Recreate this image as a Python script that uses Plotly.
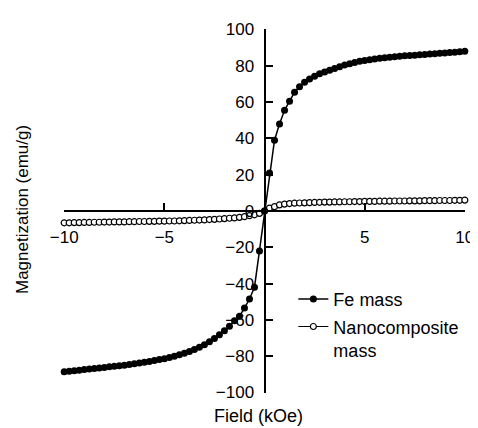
import plotly.graph_objects as go

field = [-10.0, -9.75, -9.5, -9.25, -9.0, -8.75, -8.5, -8.25, -8.0, -7.75,
         -7.5, -7.25, -7.0, -6.75, -6.5, -6.25, -6.0, -5.75, -5.5, -5.25,
         -5.0, -4.75, -4.5, -4.25, -4.0, -3.75, -3.5, -3.25, -3.0, -2.75,
         -2.5, -2.25, -2.0, -1.75, -1.5, -1.25, -1.0, -0.75, -0.5, -0.25,
         0.0,
         0.25, 0.5, 0.75, 1.0, 1.25, 1.5, 1.75, 2.0, 2.25, 2.5,
         2.75, 3.0, 3.25, 3.5, 3.75, 4.0, 4.25, 4.5, 4.75, 5.0,
         5.25, 5.5, 5.75, 6.0, 6.25, 6.5, 6.75, 7.0, 7.25, 7.5,
         7.75, 8.0, 8.25, 8.5, 8.75, 9.0, 9.25, 9.5, 9.75, 10.0]

fe_mass = [-88.6, -88.3, -88.0, -87.7, -87.4, -87.1, -86.8, -86.5, -86.2, -85.9,
           -85.6, -85.3, -85.0, -84.6, -84.2, -83.8, -83.4, -82.9, -82.4, -81.9,
           -81.4, -80.7, -80.0, -79.2, -78.4, -77.4, -76.3, -75.1, -73.7, -72.0,
           -70.2, -68.2, -66.0, -63.5, -60.5, -58.0, -53.5, -48.5, -42.0, -22.0,
           0.0,
           21.0, 39.0, 48.0, 55.5, 60.5, 65.5, 68.5, 71.0, 72.8, 74.3,
           75.6, 76.6, 77.6, 78.6, 79.5, 80.4, 81.2, 81.8, 82.5, 83.0,
           83.4, 83.8, 84.2, 84.5, 84.8, 85.0, 85.3, 85.5, 85.7, 85.9,
           86.1, 86.3, 86.5, 86.7, 86.9, 87.1, 87.3, 87.5, 87.7, 88.0]

nano_mass = [-6.5, -6.5, -6.4, -6.4, -6.3, -6.3, -6.2, -6.2, -6.1, -6.1,
             -6.0, -6.0, -6.0, -5.9, -5.9, -5.8, -5.8, -5.7, -5.7, -5.6,
             -5.6, -5.5, -5.5, -5.4, -5.3, -5.2, -5.1, -5.0, -4.9, -4.7,
             -4.6, -4.4, -4.2, -4.0, -3.8, -3.5, -3.1, -2.6, -2.1, -1.3,
             0.0,
             1.6, 2.4, 3.4, 3.8, 4.1, 4.3, 4.4, 4.5, 4.6, 4.7,
             4.8, 4.9, 4.9, 5.0, 5.0, 5.1, 5.1, 5.2, 5.2, 5.3,
             5.3, 5.3, 5.4, 5.4, 5.4, 5.5, 5.5, 5.5, 5.6, 5.6,
             5.6, 5.7, 5.7, 5.7, 5.8, 5.8, 5.8, 5.9, 5.9, 6.0]

x_tickvals = [-10, -5, 0, 5, 10]
x_ticktext = ["\u221210", "\u22125", "", "5", "10"]
y_tickvals = [-100, -80, -60, -40, -20, 0, 20, 40, 60, 80, 100]

series_names = ["Fe mass", "Nanocomposite<br>mass"]
x_title = "Field (kOe)"
y_title = "Magnetization (emu/g)"

FONT = "Liberation Sans, Arial, sans-serif"

fig = go.Figure()
fig.add_trace(go.Scatter(
    x=field, y=nano_mass, name=series_names[1], mode="lines+markers",
    line=dict(color="black", width=1.2),
    marker=dict(symbol="circle", size=6, color="white",
                line=dict(color="black", width=1.2)),
    cliponaxis=False, legendrank=2, legendgroup="b"))
fig.add_trace(go.Scatter(
    x=field, y=fe_mass, name=series_names[0], mode="lines+markers",
    line=dict(color="black", width=1.5),
    marker=dict(symbol="circle", size=7, color="black"),
    cliponaxis=False, legendrank=1, legendgroup="a"))

axis_common = dict(showgrid=False, zeroline=False, showline=True,
                   linecolor="black", linewidth=2, ticks="inside",
                   ticklen=7, tickwidth=2, tickcolor="black",
                   tickfont=dict(family=FONT, size=17, color="black"),
                   anchor="free", position=0.5)

fig.update_xaxes(range=[-10.01, 10.01], tickmode="array",
                 tickvals=x_tickvals, ticktext=x_ticktext,
                 ticklabelstandoff=11, **axis_common)
fig.update_yaxes(range=[-100.3, 100.3], tickmode="array",
                 tickvals=y_tickvals, ticklabelstandoff=6, **axis_common)

fig.update_layout(
    width=478, height=428,
    margin=dict(l=56, r=13, t=15, b=43),
    plot_bgcolor="white", paper_bgcolor="white",
    font=dict(family=FONT, size=17, color="black"),
    showlegend=True,
    legend=dict(x=0.572, y=0.308, xanchor="left", yanchor="top",
                bgcolor="rgba(0,0,0,0)", font=dict(family=FONT, size=18),
                valign="top", tracegroupgap=1, traceorder="grouped"),
    annotations=[
        dict(text=x_title, xref="paper", yref="paper", x=0.485, y=-0.062,
             xanchor="center", yanchor="middle", showarrow=False,
             font=dict(family=FONT, size=18)),
        dict(text=y_title, xref="paper", yref="paper", x=-0.102, y=0.503,
             xanchor="center", yanchor="middle", showarrow=False,
             textangle=-90, font=dict(family=FONT, size=17)),
    ],
)

fig.write_html("out.html")
